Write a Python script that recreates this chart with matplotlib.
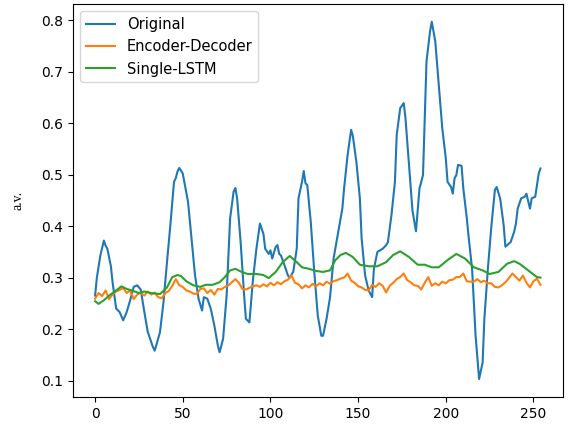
import numpy as np
import matplotlib.pyplot as plt

# values (index, value)
orig_x = [0, 1, 3, 5, 6, 7, 9, 10, 12, 14, 16, 18, 20, 22, 24, 26, 28, 30, 33, 34,
          37, 39, 41, 43, 45, 46, 47, 48, 49, 50, 53, 55, 57, 59, 61, 62, 64, 66, 68, 70,
          71, 73, 75, 77, 79, 80, 81, 83, 85, 86, 88, 90, 92, 94, 96, 97, 99, 100, 101, 103,
          104, 105, 106, 108, 110, 111, 113, 115, 116, 118, 119, 120, 121, 123, 125, 127, 129, 130, 132, 134,
          136, 139, 141, 142, 144, 146, 147, 149, 151, 152, 154, 156, 158, 159, 161, 164, 166, 167, 169, 171,
          172, 174, 176, 177, 179, 181, 183, 185, 187, 188, 189, 191, 192, 194, 196, 198, 200, 201, 203, 204,
          205, 206, 207, 209, 210, 212, 213, 215, 217, 219, 221, 222, 224, 226, 228, 229, 231, 233, 234, 237,
          239, 240, 241, 243, 245, 246, 248, 249, 251, 252, 253, 254]
orig_y = [0.265, 0.300, 0.343, 0.372, 0.362, 0.356, 0.322, 0.290, 0.240, 0.233, 0.217, 0.233, 0.256, 0.282, 0.285, 0.277, 0.235, 0.195, 0.165, 0.158,
          0.194, 0.252, 0.330, 0.405, 0.486, 0.493, 0.506, 0.513, 0.508, 0.502, 0.447, 0.376, 0.304, 0.259, 0.236, 0.262, 0.259, 0.239, 0.207, 0.168,
          0.155, 0.181, 0.265, 0.415, 0.467, 0.474, 0.454, 0.369, 0.265, 0.220, 0.213, 0.295, 0.356, 0.405, 0.385, 0.356, 0.346, 0.353, 0.337, 0.360,
          0.363, 0.346, 0.343, 0.324, 0.304, 0.300, 0.311, 0.356, 0.454, 0.486, 0.507, 0.483, 0.480, 0.408, 0.311, 0.226, 0.187, 0.187, 0.220, 0.262,
          0.337, 0.395, 0.434, 0.473, 0.538, 0.587, 0.575, 0.525, 0.454, 0.376, 0.304, 0.275, 0.262, 0.317, 0.350, 0.356, 0.363, 0.369, 0.421, 0.486,
          0.577, 0.629, 0.639, 0.610, 0.519, 0.430, 0.390, 0.473, 0.499, 0.610, 0.720, 0.778, 0.797, 0.759, 0.675, 0.590, 0.532, 0.486, 0.476, 0.463,
          0.493, 0.499, 0.519, 0.517, 0.473, 0.415, 0.380, 0.317, 0.187, 0.103, 0.135, 0.220, 0.317, 0.400, 0.470, 0.476, 0.454, 0.402, 0.360, 0.369,
          0.389, 0.405, 0.434, 0.454, 0.457, 0.463, 0.434, 0.454, 0.457, 0.480, 0.502, 0.512]

encdec_x = list(range(0, 255, 2))
encdec_y = [0.259, 0.270, 0.264, 0.275, 0.258, 0.268, 0.273, 0.276, 0.280, 0.270,
            0.275, 0.258, 0.267, 0.271, 0.265, 0.273, 0.267, 0.271, 0.262, 0.260,
            0.270, 0.274, 0.284, 0.297, 0.285, 0.282, 0.275, 0.273, 0.269, 0.268,
            0.278, 0.279, 0.270, 0.276, 0.267, 0.278, 0.277, 0.282, 0.285, 0.291,
            0.297, 0.290, 0.278, 0.277, 0.280, 0.283, 0.285, 0.282, 0.287, 0.283,
            0.290, 0.285, 0.291, 0.287, 0.293, 0.296, 0.304, 0.290, 0.287, 0.279,
            0.285, 0.281, 0.288, 0.283, 0.289, 0.285, 0.292, 0.288, 0.293, 0.295,
            0.298, 0.300, 0.308, 0.294, 0.290, 0.283, 0.281, 0.276, 0.275, 0.286,
            0.282, 0.289, 0.284, 0.271, 0.284, 0.290, 0.297, 0.301, 0.308, 0.295,
            0.291, 0.285, 0.284, 0.277, 0.290, 0.301, 0.284, 0.289, 0.285, 0.292,
            0.289, 0.295, 0.296, 0.301, 0.301, 0.308, 0.293, 0.292, 0.292, 0.297,
            0.291, 0.294, 0.289, 0.289, 0.282, 0.281, 0.285, 0.291, 0.299, 0.308,
            0.301, 0.294, 0.304, 0.290, 0.281, 0.293, 0.298, 0.286]

lstm_x = [0, 2, 5, 8, 12, 15, 18, 21, 25, 28, 32, 37, 41, 44, 47, 49, 52, 56, 60, 63,
          67, 71, 74, 77, 80, 83, 87, 92, 96, 99, 103, 107, 111, 115, 118, 122, 126, 130, 134, 137,
          140, 143, 147, 151, 156, 161, 166, 170, 174, 179, 184, 188, 192, 196, 201, 206, 211, 216, 221, 225,
          230, 235, 239, 242, 247, 252, 254]
lstm_y = [0.254, 0.249, 0.256, 0.265, 0.275, 0.283, 0.278, 0.275, 0.270, 0.273, 0.270, 0.268, 0.281, 0.301, 0.305, 0.303, 0.293, 0.285, 0.282, 0.286,
          0.286, 0.291, 0.301, 0.314, 0.317, 0.312, 0.307, 0.307, 0.305, 0.299, 0.311, 0.330, 0.342, 0.330, 0.320, 0.317, 0.313, 0.311, 0.314, 0.334,
          0.344, 0.348, 0.340, 0.325, 0.322, 0.322, 0.330, 0.344, 0.351, 0.340, 0.325, 0.325, 0.320, 0.320, 0.334, 0.346, 0.337, 0.320, 0.314, 0.307,
          0.311, 0.327, 0.332, 0.327, 0.314, 0.301, 0.300]

fig = plt.figure(figsize=(5.69, 4.30), dpi=100)
ax = fig.add_axes([0.128, 0.077, 0.861, 0.914])

ax.plot(orig_x, orig_y, label='Original')
ax.plot(encdec_x, encdec_y, label='Encoder-Decoder')
ax.plot(lstm_x, lstm_y, label='Single-LSTM')

ax.set_ylabel('a.v.', family='Liberation Serif', fontsize=10, labelpad=12)
ax.legend(loc='upper left', fontsize=10.5)
ax.tick_params(labelsize=10)

fig.savefig('out.png')
